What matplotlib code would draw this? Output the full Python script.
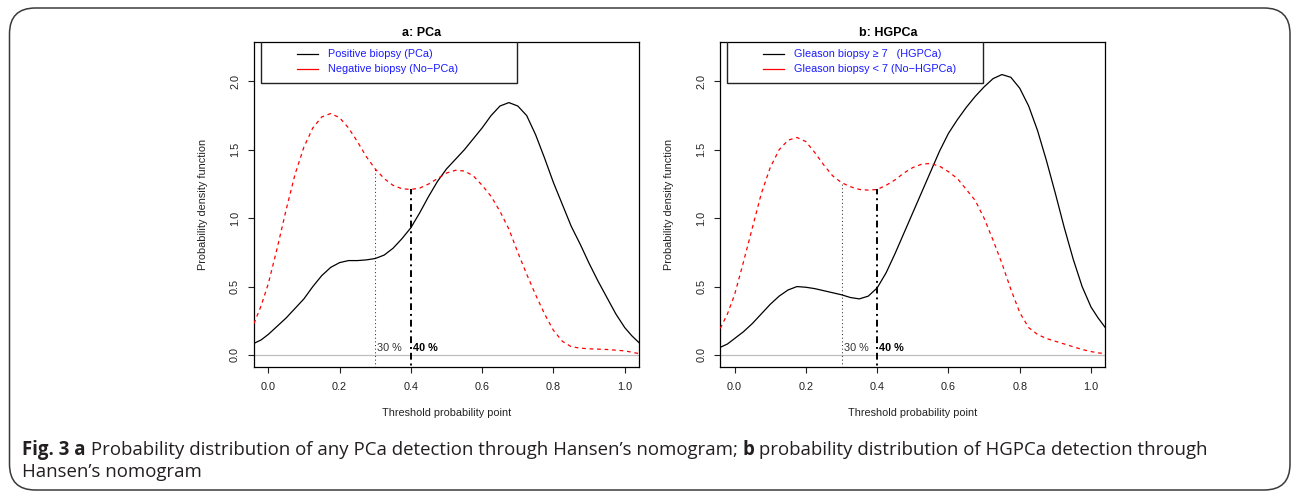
import numpy as np
import matplotlib
matplotlib.use("Agg")
import matplotlib.pyplot as plt
from matplotlib.patches import Rectangle, FancyBboxPatch

# ---------------- data ----------------
x_pca = [-0.04, -0.02, 0.00, 0.025, 0.05, 0.075, 0.10, 0.125, 0.15, 0.175, 0.20, 0.225, 0.25,
         0.275, 0.30, 0.325, 0.35, 0.375, 0.40, 0.425, 0.45, 0.475, 0.50, 0.525, 0.55, 0.575,
         0.60, 0.625, 0.65, 0.675, 0.70, 0.725, 0.75, 0.775, 0.80, 0.825, 0.85, 0.875, 0.90,
         0.925, 0.95, 0.975, 1.00, 1.02, 1.04]
pos_pca = [0.085, 0.11, 0.15, 0.21, 0.27, 0.34, 0.41, 0.50, 0.58, 0.64, 0.675, 0.69, 0.69,
           0.695, 0.705, 0.73, 0.78, 0.85, 0.93, 1.04, 1.16, 1.27, 1.36, 1.43, 1.50, 1.58,
           1.66, 1.75, 1.82, 1.845, 1.82, 1.75, 1.61, 1.44, 1.26, 1.10, 0.94, 0.81, 0.67,
           0.54, 0.42, 0.30, 0.20, 0.14, 0.09]

xr_pca = [-0.04, -0.02, 0.00, 0.025, 0.05, 0.075, 0.10, 0.125, 0.15, 0.175, 0.20, 0.225, 0.25,
          0.275, 0.30, 0.325, 0.35, 0.375, 0.40, 0.425, 0.45, 0.475, 0.50, 0.525, 0.55, 0.575,
          0.60, 0.625, 0.65, 0.675, 0.70, 0.725, 0.75, 0.775, 0.80, 0.825, 0.85, 0.875, 0.90,
          0.95, 1.00, 1.04]
neg_pca = [0.23, 0.36, 0.52, 0.78, 1.06, 1.32, 1.52, 1.66, 1.74, 1.765, 1.735, 1.66, 1.56,
           1.45, 1.36, 1.29, 1.24, 1.215, 1.21, 1.22, 1.25, 1.29, 1.33, 1.35, 1.345, 1.31,
           1.24, 1.16, 1.05, 0.92, 0.75, 0.59, 0.44, 0.30, 0.18, 0.10, 0.06, 0.05, 0.045,
           0.04, 0.03, 0.01]

x_hg = [-0.04, -0.02, 0.00, 0.025, 0.05, 0.075, 0.10, 0.125, 0.15, 0.175, 0.20, 0.225, 0.25,
        0.275, 0.30, 0.325, 0.35, 0.375, 0.40, 0.425, 0.45, 0.475, 0.50, 0.525, 0.55, 0.575,
        0.60, 0.625, 0.65, 0.675, 0.70, 0.725, 0.75, 0.775, 0.80, 0.825, 0.85, 0.875, 0.90,
        0.925, 0.95, 0.975, 1.00, 1.02, 1.04]
pos_hg = [0.056, 0.08, 0.12, 0.17, 0.23, 0.30, 0.37, 0.43, 0.475, 0.50, 0.495, 0.485, 0.47,
          0.455, 0.44, 0.42, 0.41, 0.43, 0.49, 0.60, 0.74, 0.89, 1.04, 1.19, 1.34, 1.49,
          1.62, 1.72, 1.81, 1.89, 1.96, 2.02, 2.05, 2.03, 1.95, 1.82, 1.64, 1.42, 1.18,
          0.93, 0.70, 0.50, 0.35, 0.27, 0.20]
neg_hg = [0.195, 0.30, 0.44, 0.68, 0.93, 1.18, 1.37, 1.50, 1.57, 1.59, 1.56, 1.48, 1.39,
          1.31, 1.26, 1.23, 1.21, 1.205, 1.21, 1.24, 1.28, 1.33, 1.37, 1.395, 1.40, 1.38,
          1.34, 1.29, 1.21, 1.13, 1.00, 0.84, 0.67, 0.48, 0.31, 0.20, 0.15, 0.12, 0.10,
          0.08, 0.06, 0.04, 0.025, 0.015, 0.01]

thresholds = [0.30, 0.40]
threshold_labels = ["30 %", "40 %"]
xticks = [0.0, 0.2, 0.4, 0.6, 0.8, 1.0]
yticks = [0.0, 0.5, 1.0, 1.5, 2.0]

panels = [
    dict(title="a: PCa", xpos=x_pca, pos=pos_pca, xneg=xr_pca, neg=neg_pca,
         leg=["Positive biopsy (PCa)", "Negative biopsy (No\u2212PCa)"]),
    dict(title="b: HGPCa", xpos=x_hg, pos=pos_hg, xneg=x_hg, neg=neg_hg,
         leg=["Gleason biopsy \u2265 7   (HGPCa)", "Gleason biopsy < 7 (No\u2212HGPCa)"]),
]

# ---------------- figure ----------------
W, H = 1292, 492
plt.rcParams['font.family'] = ['Liberation Sans', 'DejaVu Sans']
fig = plt.figure(figsize=(W / 100, H / 100), dpi=100)

def fx(px):
    return px / W

def fy(py):
    return 1 - py / H

axes_px = [(254, 42, 639, 367), (720.3, 42, 1105.3, 367)]
title_px = [421.5, 888]
FS = 7.8

for ax_box, tcx, p in zip(axes_px, title_px, panels):
    l, t, r, b = ax_box
    ax = fig.add_axes([fx(l), fy(b), (r - l) / W, (b - t) / H])
    ax.set_xlim(-0.04, 1.04)
    ax.set_ylim(-0.088, 2.288)

    ax.axhline(0, color="#bebebe", lw=0.9, zorder=1)
    ax.plot(p["xpos"], p["pos"], color="black", lw=0.9, zorder=3)
    ax.plot(p["xneg"], p["neg"], color="red", lw=0.9, ls=(0, (3, 3)), zorder=3)

    ytop = [float(np.interp(v, p["xneg"], p["neg"])) for v in thresholds]
    ax.plot([thresholds[0]] * 2, [-0.2, ytop[0]], color="#333333", lw=0.75,
            ls=(0, (1, 2.5)), zorder=2)
    ax.plot([thresholds[1]] * 2, [-0.2, ytop[1]], color="black", lw=1.4,
            ls=(0, (1, 2, 3.5, 2)), zorder=2)
    ax.text(thresholds[0] + 0.006, 0.05, threshold_labels[0], fontsize=FS,
            color="#333333", ha="left", va="center")
    ax.text(thresholds[1] + 0.006, 0.05, threshold_labels[1], fontsize=FS,
            color="black", fontweight="bold", ha="left", va="center")

    # legend box
    ax.add_patch(Rectangle((-0.02, 1.985), 0.718, 0.35, fill=False, edgecolor="#222222",
                           lw=1.0, zorder=4, clip_on=True))
    for k, (lab, col, ly) in enumerate(zip(p["leg"], ["black", "red"], [2.197, 2.094])):
        ax.plot([0.08, 0.14], [ly, ly], color=col, lw=0.9, zorder=5)
        ax.text(0.168, ly, lab, fontsize=FS, color="#1a1aff", ha="left", va="center",
                zorder=5)

    ax.set_xticks(xticks)
    ax.set_xticklabels([f"{v:.1f}" for v in xticks])
    ax.set_yticks(yticks)
    ax.set_yticklabels([f"{v:.1f}" for v in yticks], rotation=90, va="center")
    ax.tick_params(direction="out", length=4.5, width=0.8, labelsize=FS,
                   colors="#222222", pad=6)
    ax.tick_params(axis="y", pad=5.5)
    for s in ax.spines.values():
        s.set_linewidth(0.9)
        s.set_color("black")

    fig.text(fx(tcx), fy(32.5), p["title"], fontsize=9, fontweight="bold",
             ha="center", va="center")
    fig.text(fx((l + r) / 2), fy(412.5), "Threshold probability point", fontsize=FS,
             ha="center", va="center", color="#222222")
    fig.text(fx(l - 51), fy((t + b) / 2), "Probability density function", fontsize=FS,
             ha="center", va="center", rotation=90, color="#222222")

# outer rounded frame
frame = FancyBboxPatch((fx(9.5), fy(490)), fx(1290) - fx(9.5), fy(8) - fy(490),
                       boxstyle="round,pad=0,rounding_size=0.02",
                       transform=fig.transFigure, fill=False, edgecolor="#3a3a3a",
                       lw=1.1, mutation_aspect=W / H)
fig.patches.append(frame)

# caption with mixed bold/regular runs
renderer = fig.canvas.get_renderer()
CFS = 13.4
cap_font = ['Open Sans', 'DejaVu Sans']

def runs(parts, x0, ybase):
    x = x0
    for txt, bold in parts:
        tt = fig.text(fx(x), fy(ybase), txt, fontsize=CFS, family=cap_font,
                      fontweight="bold" if bold else "normal", ha="left",
                      va="baseline", color="#231f20")
        ext = tt.get_window_extent(renderer)
        x += ext.width

runs([("Fig. 3 a", True),
      (" Probability distribution of any PCa detection through Hansen\u2019s nomogram; ", False),
      ("b", True),
      (" probability distribution of HGPCa detection through", False)], 22, 455)
runs([("Hansen\u2019s nomogram", False)], 22, 477)

fig.savefig("out.png", dpi=100)
